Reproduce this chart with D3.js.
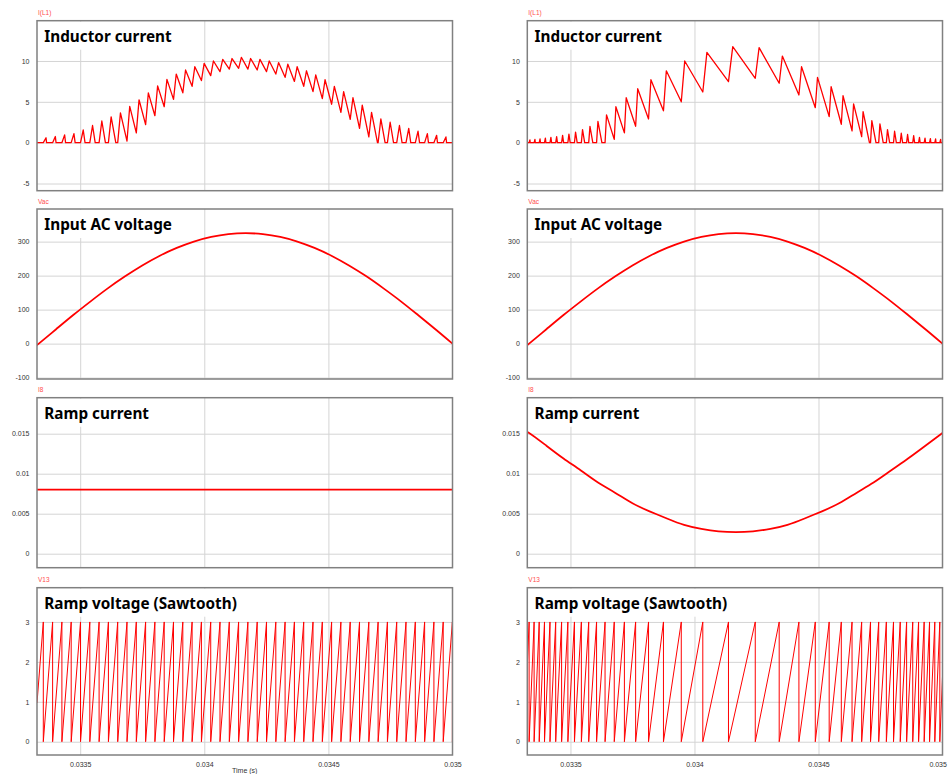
<!DOCTYPE html>
<html><head><meta charset="utf-8">
<script src="https://cdn.jsdelivr.net/npm/d3@7"></script>
<style>body{margin:0;background:#fff}svg{display:block}</style>
</head><body><svg id="c" width="948" height="774"></svg>
<script>
// ---------------- data ----------------
const timeDomain = [0.033326, 0.035];
const timeTicks = [0.0335, 0.034, 0.0345, 0.035];
const timeTickLabels = ["0.0335", "0.034", "0.0345", "0.035"];
const panelTitles = ["Inductor current", "Input AC voltage", "Ramp current", "Ramp voltage (Sawtooth)"];
const panelVars = ["I(L1)", "Vac", "I8", "V13"];
const yTicksIL = [-5, 0, 5, 10];
const yTicksVac = [-100, 0, 100, 200, 300];
const yTicksI8 = [0, 0.005, 0.01, 0.015];
const yTicksV13 = [0, 1, 2, 3];

// input AC voltage (same for both simulations)
const vacTime = [0.033326, 0.0333333, 0.033403, 0.033472, 0.033542, 0.033611, 0.033681, 0.033750, 0.033819,
  0.033889, 0.033958, 0.034028, 0.034097, 0.034167, 0.034236, 0.034306, 0.034375, 0.034444, 0.034514,
  0.034583, 0.034653, 0.034722, 0.034792, 0.034861, 0.034931, 0.035000];
const vacValue = [-4.5, 0, 42.4, 84.1, 124.4, 162.5, 197.9, 229.8, 257.9, 281.5, 300.3, 313.9, 322.2, 325,
  322.2, 313.9, 300.3, 281.5, 257.9, 229.8, 197.9, 162.5, 124.4, 84.1, 42.4, 0];

// ramp current
const leftI8Time = [0.033326, 0.035];
const leftI8Value = [0.008, 0.008];
const rightI8Value = [0.0149, 0.0151, 0.0135, 0.0119, 0.0104, 0.0089, 0.0076, 0.0063, 0.0053, 0.0044, 0.0036,
  0.0031, 0.0028, 0.0027, 0.0028, 0.0031, 0.0036, 0.0044, 0.0053, 0.0063, 0.0076, 0.0089, 0.0104, 0.0119,
  0.0135, 0.0151];

// sawtooth reset instants (switching cycle starts)
const leftReset = [0.0333514, 0.0333889, 0.0334263, 0.0334638, 0.0335013, 0.0335388, 0.0335762, 0.0336137,
  0.0336512, 0.0336886, 0.0337261, 0.0337636, 0.0338010, 0.0338385, 0.0338760, 0.0339135, 0.0339509,
  0.0339884, 0.0340259, 0.0340633, 0.0341008, 0.0341383, 0.0341757, 0.0342132, 0.0342507, 0.0342882,
  0.0343256, 0.0343631, 0.0344006, 0.0344380, 0.0344755, 0.0345130, 0.0345504, 0.0345879, 0.0346254,
  0.0346629, 0.0347003, 0.0347378, 0.0347753, 0.0348127, 0.0348502, 0.0348877, 0.0349251, 0.0349626,
  0.0349995];
const rightReset = [0.0333333, 0.0333535, 0.0333740, 0.0333953, 0.0334175, 0.0334405, 0.0334643, 0.0334896,
  0.0335161, 0.0335440, 0.0335736, 0.0336053, 0.0336395, 0.0336766, 0.0337175, 0.0337628, 0.0338148,
  0.0338750, 0.0339468, 0.0340336, 0.0341371, 0.0342451, 0.0343416, 0.0344211, 0.0344871, 0.0345431,
  0.0345920, 0.0346353, 0.0346741, 0.0347098, 0.0347428, 0.0347736, 0.0348025, 0.0348296, 0.0348553,
  0.0348800, 0.0349036, 0.0349261, 0.0349478, 0.0349690, 0.0349892];
const rampTop = 3;
const leftRampStart = 0.97, leftRampEnd = 0.04;
const rightRampStart = 1.9, rightRampEnd = 1.63;

// inductor current: peak per cycle, value at each cycle start, fall time to zero (us) in DCM cycles
const leftPeak = [0.6, 0.75, 0.95, 1.1, 1.55, 2.1, 2.65, 3.15, 3.65, 4.45, 5.25, 6.1, 6.95, 7.75, 8.4, 8.9, 9.3,
  9.7, 10.0, 10.2, 10.3, 10.45, 10.3, 10.2, 10.0, 9.8, 9.6, 9.3, 8.8, 8.3, 7.7, 6.9, 6.25, 5.5, 4.6, 3.7, 2.9,
  2.5, 2.1, 1.75, 1.4, 1.1, 0.9, 0.7, 0.6];
const leftValley = [0, 0, 0, 0, 0, 0, 0, 0, 0, 0.2, 1.2, 2.2, 3.3, 4.4, 5.3, 6.1, 6.9, 7.6, 8.2, 8.7, 9.0, 9.1,
  9.0, 8.9, 8.7, 8.4, 8.0, 7.5, 6.9, 6.25, 5.4, 4.7, 3.7, 2.85, 1.75, 0.7, 0, 0, 0, 0, 0, 0, 0, 0, 0];
const leftFallUs = [2.1, 2.8, 3.8, 4.8, 7.2, 10.6, 14.4, 18.7, null, null, null, null, null, null, null, null,
  null, null, null, null, null, null, null, null, null, null, null, null, null, null, null, null, null, null,
  null, 23.8, 17.1, 13.6, 10.5, 8.1, 6.0, 4.4, 3.4, 2.5, 2.0];
const leftOnUs = 11;

const rightPeak = [0.35, 0.4, 0.45, 0.55, 0.65, 0.75, 0.9, 1.05, 1.3, 1.6, 2.0, 2.6, 3.4, 4.4, 5.5, 6.6, 7.7,
  8.8, 10.0, 11.06, 11.75, 11.63, 10.6, 9.3, 8.0, 6.85, 5.75, 4.74, 3.8, 2.7, 2.3, 1.6, 1.4, 1.15, 1.0, 0.86,
  0.65, 0.55, 0.5, 0.45, 0.4];
const rightValley = [0, 0, 0, 0, 0, 0, 0, 0, 0, 0, 0, 0, 0, 0.4, 1.2, 2.0, 2.9, 3.9, 5.0, 6.2, 7.47, 7.88, 7.27,
  5.84, 4.28, 3.18, 2.25, 1.44, 0.74, 0, 0, 0, 0, 0, 0, 0, 0, 0, 0, 0, 0];
const rightFallUs = [1.24, 1.47, 1.71, 2.17, 2.67, 3.22, 4.05, 4.98, 6.51, 8.53, 11.4, 16.0, null, null, null,
  null, null, null, null, null, null, null, null, null, null, null, null, null, 25.6, 16.7, 13.2, 8.55, 7.0,
  5.46, 4.5, 3.69, 2.68, 2.17, 1.9, 1.65, 1.42];
const rightOnFrac = 0.16;

// ---------------- layout ----------------
const cols = [{x0: 37, x1: 452.5}, {x0: 527.3, x1: 942.5}];
const rows = [{y0: 20.7, y1: 190.7}, {y0: 209, y1: 379}, {y0: 397.7, y1: 567.7}, {y0: 587.7, y1: 755}];
const yDomains = [[-5.88, 14.93], [-104, 396], [-0.00175, 0.0195], [-0.3325, 3.8575]];
const yTicks = [yTicksIL, yTicksVac, yTicksI8, yTicksV13];
const RED = "#ff0000";
const svgW = 948;

const svg = d3.select("#c");
const defs = svg.append("defs");

function ilPoints(resets, peaks, valleys, fallUs, onTime) {
  const pts = [[timeDomain[0], 0]];
  for (let k = 0; k < resets.length; k++) {
    const t = resets[k];
    pts.push([t, valleys[k]]);
    const tp = t + onTime(k);
    pts.push([tp, peaks[k]]);
    if (fallUs[k] != null) {
      pts.push([tp + fallUs[k] * 1e-6, 0]);
    }
  }
  pts.push([timeDomain[1] + 1e-5, 0]);
  return pts;
}
function rampPoints(resets, startV, endV) {
  const pts = [[timeDomain[0], startV]];
  resets.forEach(t => { pts.push([t, rampTop]); pts.push([t, 0]); });
  pts.push([timeDomain[1], endV]);
  return pts;
}

const leftSeries = [
  ilPoints(leftReset, leftPeak, leftValley, leftFallUs, () => leftOnUs * 1e-6),
  vacTime.map((t, i) => [t, vacValue[i]]),
  leftI8Time.map((t, i) => [t, leftI8Value[i]]),
  rampPoints(leftReset, leftRampStart, leftRampEnd)
];
const rightSeries = [
  ilPoints(rightReset, rightPeak, rightValley, rightFallUs, k => {
    const next = k + 1 < rightReset.length ? rightReset[k + 1] : rightReset[k] + (rightReset[k] - rightReset[k - 1]);
    return rightOnFrac * (next - rightReset[k]);
  }),
  vacTime.map((t, i) => [t, vacValue[i]]),
  vacTime.map((t, i) => [t, rightI8Value[i]]),
  rampPoints(rightReset, rightRampStart, rightRampEnd)
];
const curves = [d3.curveLinear, d3.curveNatural, d3.curveNatural, d3.curveLinear];
const widths = [1.3, 1.8, 1.8, 1.0];

cols.forEach((col, ci) => {
  const x = d3.scaleLinear().domain(timeDomain).range([col.x0, col.x1]);
  const series = ci === 0 ? leftSeries : rightSeries;
  rows.forEach((row, ri) => {
    const y = d3.scaleLinear().domain(yDomains[ri]).range([row.y1, row.y0]);
    const g = svg.append("g");
    const w = col.x1 - col.x0, h = row.y1 - row.y0;
    const clipId = `clip${ci}${ri}`;
    defs.append("clipPath").attr("id", clipId).append("rect")
      .attr("x", col.x0).attr("y", row.y0).attr("width", w).attr("height", h);

    // grid
    g.append("g").attr("transform", `translate(${col.x0},0)`)
      .call(d3.axisLeft(y).tickValues(yTicks[ri]).tickSize(-w).tickFormat(""))
      .call(s => s.select(".domain").remove())
      .call(s => s.selectAll("line").attr("stroke", "#d4d4d4").attr("stroke-width", 1));
    g.append("g").attr("transform", `translate(0,${row.y1})`)
      .call(d3.axisBottom(x).tickValues(timeTicks.slice(0, 3)).tickSize(-h).tickFormat(""))
      .call(s => s.select(".domain").remove())
      .call(s => s.selectAll("line").attr("stroke", "#d4d4d4").attr("stroke-width", 1));

    // y tick labels
    g.append("g").attr("transform", `translate(${col.x0},0)`)
      .call(d3.axisLeft(y).tickValues(yTicks[ri]).tickSize(0).tickPadding(7.5).tickFormat(d => String(d)))
      .call(s => s.select(".domain").remove())
      .call(s => s.selectAll("text").attr("font-family", "Liberation Sans, Arial, sans-serif")
        .attr("font-size", 7).attr("fill", "#333"));

    // title with white box
    const box = g.append("rect").attr("x", col.x0 + 1).attr("y", row.y0 + 1)
      .attr("height", 28).attr("fill", "#fff");
    const title = g.append("text").attr("x", col.x0 + 7.3).attr("y", row.y0 + 21)
      .attr("font-family", "Noto Sans, sans-serif").attr("font-weight", "bold")
      .attr("font-size", 15.3).attr("fill", "#000").text(panelTitles[ri]);
    box.attr("width", title.node().getComputedTextLength() + 12);

    // series
    g.append("path").datum(series[ri]).attr("clip-path", `url(#${clipId})`)
      .attr("fill", "none").attr("stroke", RED).attr("stroke-width", widths[ri])
      .attr("stroke-linejoin", "round")
      .attr("d", d3.line().x(d => x(d[0])).y(d => y(d[1])).curve(curves[ri]));

    // frame
    g.append("rect").attr("x", col.x0).attr("y", row.y0).attr("width", w).attr("height", h)
      .attr("fill", "none").attr("stroke", "#808080").attr("stroke-width", 1.5);

    // variable label
    g.append("text").attr("x", col.x0 + 1).attr("y", row.y0 - 5.5)
      .attr("font-family", "Liberation Sans, Arial, sans-serif").attr("font-size", 6.5)
      .attr("fill", "#ff4d4d").text(panelVars[ri]);

    // time axis labels under bottom panel
    if (ri === rows.length - 1) {
      g.append("g").attr("transform", `translate(0,${row.y1})`)
        .call(d3.axisBottom(x).tickValues(timeTicks).tickSize(0).tickPadding(7)
          .tickFormat((d, i) => timeTickLabels[i]))
        .call(s => s.select(".domain").remove())
        .call(s => s.selectAll("text").attr("font-family", "Liberation Sans, Arial, sans-serif")
          .attr("font-size", 7).attr("fill", "#333"))
        .call(s => s.selectAll(".tick text").each(function () {
          // keep labels that would overflow the page inside it
          const bb = this.getBBox();
          const tr = this.parentNode.transform.baseVal.consolidate();
          const cx = tr ? tr.matrix.e : 0;
          const right = cx + bb.x + bb.width;
          if (right > svgW - 1) d3.select(this).attr("dx", svgW - 1 - right);
        }));
      if (ci === 0) {
        g.append("text").attr("x", (col.x0 + col.x1) / 2).attr("y", 773).attr("text-anchor", "middle")
          .attr("font-family", "Liberation Sans, Arial, sans-serif").attr("font-size", 7)
          .attr("fill", "#333").text("Time (s)");
      }
    }
  });
});
</script></body></html>
